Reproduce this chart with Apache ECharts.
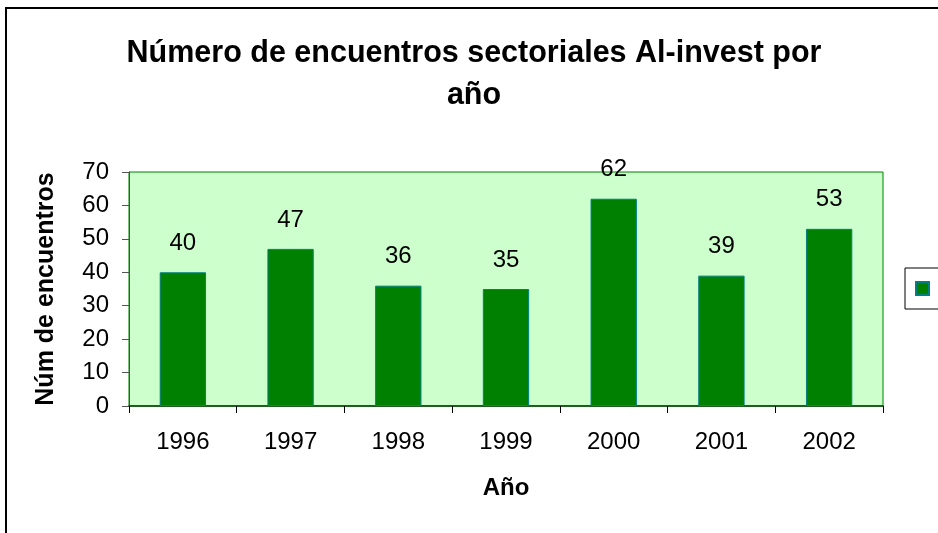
<!DOCTYPE html>
<html>
<head>
<meta charset="utf-8">
<script src="https://cdn.jsdelivr.net/npm/echarts@6/dist/echarts.min.js"></script>
<style>
  html, body { margin: 0; padding: 0; background: #fff; }
  #chart { width: 938px; height: 533px; }
</style>
</head>
<body>
<div id="chart"></div>
<script>
const years = ['1996', '1997', '1998', '1999', '2000', '2001', '2002'];
const encuentros = [40, 47, 36, 35, 62, 39, 53];
const yTicks = { min: 0, max: 70, interval: 10 };

const font = 'Liberation Sans, Arial, sans-serif';
const chart = echarts.init(document.getElementById('chart'));

chart.setOption({
  animation: false,
  backgroundColor: '#fff',
  textStyle: { fontFamily: font },
  title: {
    text: 'Número de encuentros sectoriales Al-invest por\naño',
    left: 469,
    top: 28,
    textAlign: 'center',
    textStyle: { fontSize: 30.5, fontWeight: 'bold', color: '#000', lineHeight: 42, fontFamily: font }
  },
  graphic: [{
    type: 'rect',
    shape: { x: 6, y: 8, width: 1000, height: 600 },
    style: { fill: 'none', stroke: '#000', lineWidth: 2 },
    silent: true
  }],
  legend: {
    left: 905,
    top: 268,
    orient: 'vertical',
    data: [{ name: ' ', icon: 'rect' }],
    formatter: () => '',
    itemWidth: 13,
    itemHeight: 13,
    padding: [13, 40, 13, 10],
    borderColor: '#000',
    borderWidth: 1,
    textStyle: { fontSize: 12 }
  },
  grid: { left: 129, right: 55, top: 172, bottom: 127, show: true, backgroundColor: '#CCFFCC', borderColor: '#008000', borderWidth: 1 },
  xAxis: {
    type: 'category',
    data: years,
    name: 'Año',
    nameLocation: 'middle',
    nameGap: 70,
    nameTextStyle: { fontSize: 24, fontWeight: 'bold', color: '#000', fontFamily: font },
    axisLine: { lineStyle: { color: '#004000', width: 1.5 } },
    axisTick: { show: true, alignWithLabel: false, length: 7, lineStyle: { color: '#000' } },
    axisLabel: { fontSize: 24, color: '#000', margin: 24, fontFamily: font }
  },
  yAxis: {
    type: 'value',
    min: yTicks.min,
    max: yTicks.max,
    interval: yTicks.interval,
    name: 'Núm de encuentros',
    nameLocation: 'middle',
    nameGap: 70,
    nameTextStyle: { fontSize: 25, fontWeight: 'bold', color: '#000', fontFamily: font },
    axisLine: { show: true, lineStyle: { color: '#008000' } },
    axisTick: { show: true, length: 7, lineStyle: { color: '#555' } },
    splitLine: { show: false },
    axisLabel: { fontSize: 24, color: '#000', margin: 20, fontFamily: font }
  },
  series: [{
    name: ' ',
    type: 'bar',
    data: encuentros,
    barWidth: '43%',
    itemStyle: { color: '#008000', borderColor: '#008080', borderWidth: 1 },
    label: { show: true, position: 'top', distance: 17, fontSize: 24, color: '#000', fontFamily: font }
  }]
});
</script>
</body>
</html>
